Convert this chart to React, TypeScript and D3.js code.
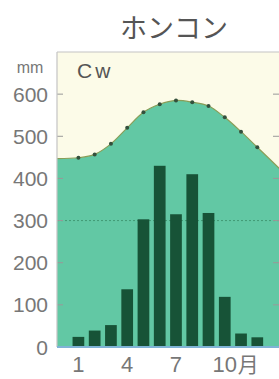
import React from "react";
import * as d3 from "d3";

const months = [1, 2, 3, 4, 5, 6, 7, 8, 9, 10, 11, 12];
const precipitation = [24, 39, 52, 137, 303, 430, 315, 410, 318, 119, 32, 23];
const temperature = [14.9, 15.7, 18.2, 22.0, 25.7, 27.6, 28.5, 28.1, 27.2, 24.5, 21.1, 17.4];
const mmTicks = [0, 100, 200, 300, 400, 500, 600];
const monthLabels = [
  { m: 1, num: "1", suffix: "" },
  { m: 4, num: "4", suffix: "" },
  { m: 7, num: "7", suffix: "" },
  { m: 10, num: "10", suffix: "月" },
];
const title = "ホンコン";
const climate = "Cw";

export default function App() {
  const W = 279, H = 379;
  const left = 57, right = 282, top = 52, bottom = 347;

  const y = d3.scaleLinear().domain([0, 700]).range([bottom, top]);
  const yT = d3.scaleLinear().domain([-30, 40]).range([bottom, top]);
  const x = d3.scaleBand<number>().domain(months).range([68, 267.7]).padding(0.28);
  const cx = (m: number) => (x(m) as number) + x.bandwidth() / 2;
  const step = x.step();

  const pts: [number, number][] = months.map((m, i) => [cx(m), yT(temperature[i])]);
  const n = temperature.length;
  const lastSlope = (temperature[n - 1] - temperature[n - 2]) / step;
  const extRight = temperature[n - 1] + lastSlope * (right - cx(12));
  const curvePts: [number, number][] = [
    [left, yT(temperature[0] - 0.2)],
    ...pts,
    [right, yT(extRight)],
  ];
  const line = d3.line().curve(d3.curveCatmullRom.alpha(0.5));
  const area = d3
    .area<[number, number]>()
    .x((d) => d[0])
    .y0(bottom)
    .y1((d) => d[1])
    .curve(d3.curveCatmullRom.alpha(0.5));

  const greyText = "#777";

  return (
    <svg
      width={W}
      height={H}
      style={{ position: "absolute", left: 0, top: 0, background: "#fff" }}
    >
      <defs>
        <clipPath id="plot">
          <rect x={left} y={top} width={right - left} height={bottom - top} />
        </clipPath>
      </defs>
      <text
        x={174}
        y={38}
        textAnchor="middle"
        fontFamily="'Noto Sans CJK JP', sans-serif"
        fontSize={27}
        fill="#555"
      >
        {title}
      </text>
      <rect x={left} y={top} width={right - left} height={bottom - top} fill="#fcfbe8" />
      <g clipPath="url(#plot)">
        <path d={area(curvePts) || ""} fill="#62c8a4" />
        <path d={line(curvePts) || ""} fill="none" stroke="#8a9e58" strokeWidth={1.2} />
        <line
          x1={left}
          x2={right}
          y1={yT(0)}
          y2={yT(0)}
          stroke="#2b7a55"
          strokeOpacity={0.6}
          strokeDasharray="2,2"
          strokeWidth={1}
        />
        {months.map((m, i) => (
          <rect
            key={m}
            x={x(m)}
            y={y(precipitation[i])}
            width={x.bandwidth()}
            height={bottom - y(precipitation[i])}
            fill="#175337"
          />
        ))}
        {pts.map((p, i) => (
          <circle key={i} cx={p[0]} cy={p[1]} r={2} fill="#34503c" />
        ))}
        {mmTicks.map((t) => (
          <g key={t}>
            <line x1={left} x2={left + 6} y1={y(t)} y2={y(t)} stroke="#999" strokeWidth={1} />
            <line x1={right - 9} x2={right} y1={y(t)} y2={y(t)} stroke="#999" strokeWidth={1} />
          </g>
        ))}
      </g>
      <line x1={left} x2={right} y1={top} y2={top} stroke="#c4c4c4" strokeWidth={1.2} />
      <line x1={left} x2={left} y1={top} y2={bottom} stroke="#c4c4c4" strokeWidth={1.2} />
      <line x1={left} x2={right} y1={bottom} y2={bottom} stroke="#7fb3d6" strokeWidth={2} />
      {mmTicks.map((t) => (
        <text
          key={t}
          x={48}
          y={y(t) + 7.5}
          textAnchor="end"
          fontFamily="'Liberation Sans', Arial, sans-serif"
          fontSize={21}
          fill={greyText}
        >
          {t}
        </text>
      ))}
      <text
        x={30}
        y={73}
        textAnchor="middle"
        fontFamily="'Liberation Sans', Arial, sans-serif"
        fontSize={16}
        fill={greyText}
      >
        mm
      </text>
      <text
        x={77}
        y={78}
        fontFamily="'Liberation Sans', Arial, sans-serif"
        fontSize={21}
        letterSpacing={3}
        fill="#555"
      >
        {climate}
      </text>
      {monthLabels.map((l) => (
        <g key={l.m}>
          <text
            x={cx(l.m)}
            y={372}
            textAnchor="middle"
            fontFamily="'Liberation Sans', Arial, sans-serif"
            fontSize={22}
            fill={greyText}
          >
            {l.num}
          </text>
          {l.suffix && (
            <text
              x={cx(l.m) + 13}
              y={372}
              fontFamily="'Noto Sans CJK JP', sans-serif"
              fontSize={21}
              fill={greyText}
            >
              {l.suffix}
            </text>
          )}
        </g>
      ))}
    </svg>
  );
}
